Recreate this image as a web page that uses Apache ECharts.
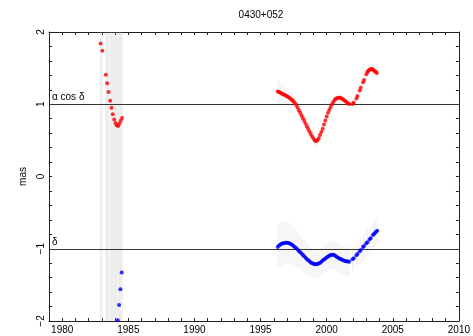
<!DOCTYPE html>
<html>
<head>
<meta charset="utf-8">
<script src="https://cdn.jsdelivr.net/npm/echarts@6/dist/echarts.min.js"></script>
<style>html,body{margin:0;padding:0;background:#fff;}#c{width:473px;height:336px;}</style>
</head>
<body>
<div id="c"></div>
<script>
const titleText = '0430+052';
const xTickLabels = [1980, 1985, 1990, 1995, 2000, 2005, 2010];
const yTickLabels = [-2, -1, 0, 1, 2];
const offsetLabels = ['α cos δ', 'δ'];
const offsets = [1, -1];

// early epoch: [year, value]; errors exceed the plotted range
const redEarly = [[1982.90,1.84],[1983.03,1.74],[1983.30,1.41],[1983.40,1.29],[1983.50,1.17],[1983.63,1.05],[1983.73,0.95],[1983.82,0.86],[1983.93,0.79],[1984.03,0.74],[1984.12,0.71],[1984.23,0.70],[1984.33,0.73],[1984.42,0.77],[1984.53,0.81]];
const blueEarly = [[1984.20,-1.99],[1984.30,-1.78],[1984.40,-1.56],[1984.50,-1.33]];
const earlyErr = 6;

// late epoch: [year, value, error]
const redLate = [
[1996.3,1.178,.15],[1996.4,1.170,.15],[1996.5,1.160,.14],[1996.6,1.150,.14],[1996.7,1.138,.13],[1996.8,1.130,.12],[1996.9,1.121,.12],
[1997.0,1.112,.11],[1997.1,1.102,.10],[1997.2,1.088,.10],[1997.3,1.072,.09],[1997.4,1.057,.09],[1997.5,1.038,.08],[1997.6,1.015,.08],
[1997.7,0.990,.08],[1997.8,0.955,.07],[1997.9,0.918,.07],[1998.0,0.882,.07],[1998.1,0.845,.07],[1998.2,0.806,.07],[1998.3,0.770,.07],
[1998.4,0.732,.07],[1998.5,0.695,.07],[1998.6,0.660,.07],[1998.7,0.623,.07],[1998.8,0.588,.07],[1998.9,0.553,.07],[1999.0,0.525,.07],
[1999.1,0.500,.07],[1999.2,0.490,.07],[1999.3,0.498,.07],[1999.4,0.530,.06],[1999.5,0.574,.06],[1999.6,0.615,.06],[1999.7,0.662,.06],
[1999.8,0.718,.06],[1999.9,0.776,.06],[2000.0,0.832,.05],[2000.1,0.883,.05],[2000.2,0.925,.05],[2000.3,0.962,.05],[2000.4,1.000,.05],
[2000.5,1.032,.05],[2000.6,1.060,.05],[2000.7,1.077,.05],[2000.8,1.087,.05],[2000.9,1.091,.05],[2001.0,1.090,.05],[2001.1,1.083,.05],
[2001.2,1.073,.05],[2001.3,1.060,.05],[2001.4,1.045,.05],[2001.5,1.030,.05],[2001.6,1.015,.05],[2001.7,1.002,.05],
[2001.95,1.005,.05],[2002.05,1.020,.05],[2002.25,1.080,.05],[2002.33,1.115,.05],[2002.5,1.190,.05],[2002.58,1.230,.05],
[2002.75,1.305,.06],[2002.83,1.336,.06],[2003.0,1.415,.06],[2003.08,1.445,.06],[2003.16,1.465,.07],[2003.24,1.478,.07],
[2003.32,1.485,.07],[2003.4,1.487,.07],[2003.48,1.483,.07],[2003.56,1.472,.07],[2003.64,1.458,.07],[2003.72,1.447,.07],[2003.8,1.432,.07]
];
const blueLate = [
[1996.3,-0.975,.30],[1996.4,-0.955,.30],[1996.5,-0.940,.30],[1996.6,-0.932,.30],[1996.7,-0.924,.30],[1996.8,-0.919,.30],[1996.9,-0.916,.29],
[1997.0,-0.917,.29],[1997.1,-0.921,.28],[1997.2,-0.927,.28],[1997.3,-0.935,.27],[1997.4,-0.948,.27],[1997.5,-0.962,.26],[1997.6,-0.978,.26],
[1997.7,-0.994,.25],[1997.8,-1.012,.25],[1997.9,-1.030,.24],[1998.0,-1.048,.24],[1998.1,-1.067,.23],[1998.2,-1.085,.23],[1998.3,-1.104,.22],
[1998.4,-1.123,.22],[1998.5,-1.141,.21],[1998.6,-1.158,.21],[1998.7,-1.174,.20],[1998.8,-1.189,.20],[1998.9,-1.200,.20],[1999.0,-1.208,.20],
[1999.1,-1.213,.20],[1999.2,-1.215,.20],[1999.3,-1.212,.20],[1999.4,-1.205,.20],[1999.5,-1.195,.20],[1999.6,-1.180,.20],[1999.7,-1.164,.20],
[1999.8,-1.150,.20],[1999.9,-1.136,.20],[2000.0,-1.122,.20],[2000.1,-1.108,.20],[2000.2,-1.097,.20],[2000.3,-1.088,.20],[2000.4,-1.082,.20],
[2000.5,-1.082,.20],[2000.6,-1.090,.20],[2000.7,-1.103,.20],[2000.8,-1.117,.20],[2000.9,-1.128,.20],[2001.0,-1.138,.20],[2001.1,-1.147,.20],
[2001.2,-1.156,.20],[2001.3,-1.163,.20],[2001.4,-1.169,.20],[2001.5,-1.174,.20],[2001.6,-1.178,.20],[2001.7,-1.180,.20],
[2001.95,-1.146,.18],[2002.05,-1.130,.18],[2002.25,-1.090,.18],[2002.33,-1.073,.18],[2002.5,-1.035,.18],[2002.58,-1.017,.18],
[2002.75,-0.975,.18],[2002.83,-0.962,.18],[2003.0,-0.925,.18],[2003.08,-0.911,.18],[2003.25,-0.870,.18],[2003.33,-0.855,.18],
[2003.5,-0.810,.18],[2003.58,-0.796,.18],[2003.66,-0.780,.18],[2003.74,-0.765,.18],[2003.82,-0.750,.18]
];

const FONT = 'Liberation Sans, Arial, sans-serif';
const chart = echarts.init(document.getElementById('c'), null, {renderer: 'canvas'});

function errRender(color, width) {
  return function (params, api) {
    const x = api.value(0), y = api.value(1), e = api.value(2);
    const p1 = api.coord([x, y - e]);
    const p2 = api.coord([x, y + e]);
    return {
      type: 'line',
      shape: {x1: p1[0], y1: p1[1], x2: p2[0], y2: p2[1]},
      style: {stroke: color, lineWidth: width}
    };
  };
}

const earlyErrRows = redEarly.map(d => [d[0], d[1], earlyErr]);

const isInt = v => Math.abs(v - Math.round(v)) < 1e-6;
const axisLine = {show: true, onZero: false, lineStyle: {color: '#222', width: 1}};

chart.setOption({
  animation: false,
  backgroundColor: '#fff',
  title: {text: titleText, left: 256, textAlign: 'center', top: 5,
    textStyle: {fontFamily: FONT, fontSize: 10, fontWeight: 'normal', color: '#000'}},
  grid: {left: 49, right: 10, top: 32, bottom: 15, containLabel: false},
  xAxis: [{
    type: 'value', min: 1979, max: 2010, interval: 1, position: 'bottom',
    axisLine: axisLine,
    axisTick: {show: true, inside: true, length: 3, lineStyle: {color: '#222'}},
    axisLabel: {margin: 4, fontFamily: FONT, fontSize: 10, color: '#000',
      formatter: v => xTickLabels.indexOf(Math.round(v)) >= 0 && isInt(v) ? String(Math.round(v)) : ''},
    splitLine: {show: false}
  }, {
    type: 'value', min: 1979, max: 2010, interval: 1, position: 'top',
    axisLine: axisLine,
    axisTick: {show: true, inside: true, length: 3, lineStyle: {color: '#222'}},
    axisLabel: {show: false}, splitLine: {show: false}
  }],
  yAxis: [{
    type: 'value', min: -2, max: 2, interval: 0.2, position: 'left',
    name: 'mas', nameLocation: 'middle', nameGap: 17, nameRotate: 90,
    nameTextStyle: {fontFamily: FONT, fontSize: 10, color: '#000'},
    axisLine: axisLine,
    axisTick: {show: true, inside: true, length: 3, lineStyle: {color: '#222'}},
    axisLabel: {margin: 3, rotate: 90, fontFamily: FONT, fontSize: 10, color: '#000',
      formatter: v => {
        if (!isInt(v)) return '';
        const r = Math.round(v);
        if (yTickLabels.indexOf(r) < 0) return '';
        return r < 0 ? '\u2212' + Math.abs(r) : String(r);
      }},
    splitLine: {show: false}
  }, {
    type: 'value', min: -2, max: 2, interval: 0.2, position: 'right',
    axisLine: axisLine,
    axisTick: {show: true, inside: true, length: 3, lineStyle: {color: '#222'}},
    axisLabel: {show: false}, splitLine: {show: false}
  }],
  series: [
    {type: 'custom', name: 'earlyErr', renderItem: errRender('rgba(170,170,170,0.22)', 1.2),
      data: earlyErrRows, clip: true, z: 1, silent: true},
    {type: 'custom', name: 'redErr', renderItem: errRender('rgba(200,200,200,0.22)', 1),
      data: redLate, clip: true, z: 1, silent: true},
    {type: 'custom', name: 'blueErr', renderItem: errRender('rgba(200,200,200,0.22)', 1),
      data: blueLate, clip: true, z: 1, silent: true},
    {type: 'scatter', name: 'refs', data: [], z: 3,
      markLine: {
        silent: true, symbol: 'none', animation: false,
        lineStyle: {color: '#333', width: 1, type: 'solid'},
        label: {show: true, position: 'insideStartTop', distance: [3, 2],
          fontFamily: FONT, fontSize: 10, color: '#000',
          formatter: p => offsetLabels[offsets.indexOf(p.value)]},
        data: offsets.map(v => ({yAxis: v}))
      }},
    {type: 'scatter', name: 'redE', data: redEarly, symbol: 'circle', symbolSize: 4,
      itemStyle: {color: '#ff0000'}, z: 5, clip: true},
    {type: 'scatter', name: 'redL', data: redLate.map(d => [d[0], d[1]]), symbol: 'circle', symbolSize: 4,
      itemStyle: {color: '#ff0000'}, z: 5, clip: true},
    {type: 'scatter', name: 'blueE', data: blueEarly, symbol: 'circle', symbolSize: 4,
      itemStyle: {color: '#0000ff'}, z: 5, clip: true},
    {type: 'scatter', name: 'blueL', data: blueLate.map(d => [d[0], d[1]]), symbol: 'circle', symbolSize: 4,
      itemStyle: {color: '#0000ff'}, z: 5, clip: true}
  ]
});
</script>
</body>
</html>
